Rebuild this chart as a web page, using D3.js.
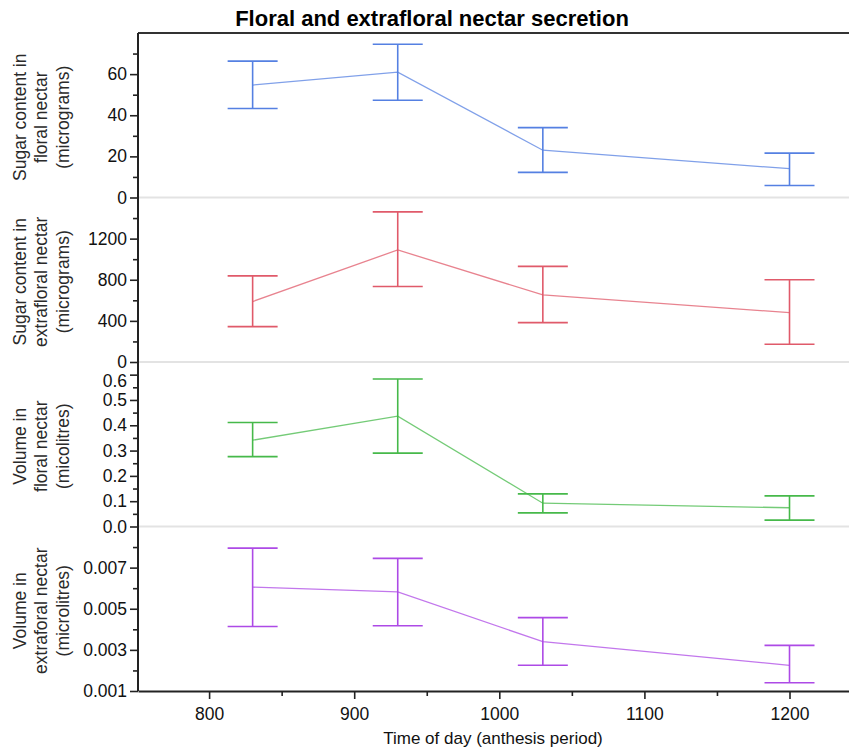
<!DOCTYPE html>
<html>
<head>
<meta charset="utf-8">
<script src="https://cdn.jsdelivr.net/npm/d3@7"></script>
<style>
  body { margin: 0; background: #fff; }
  svg { display: block; font-family: 'Liberation Sans', Arial, sans-serif; }
</style>
</head>
<body>
<div id="chart"></div>
<script>
// time of day for each measurement
const times = [830, 930, 1030, 1200];

// sugar content in floral nectar (micrograms)
const floralSugarMean = [54.7, 61, 23, 14];
const floralSugarLow = [43.3, 47.3, 12.2, 5.8];
const floralSugarHigh = [66.3, 74.5, 34, 21.6];

// sugar content in extrafloral nectar (micrograms)
const extraSugarMean = [588, 1090, 652, 480];
const extraSugarLow = [344, 735, 383, 172];
const extraSugarHigh = [838, 1460, 930, 800];

// volume in floral nectar (microlitres)
const floralVolMean = [0.341, 0.436, 0.092, 0.074];
const floralVolLow = [0.276, 0.29, 0.054, 0.025];
const floralVolHigh = [0.411, 0.583, 0.129, 0.121];

// volume in extrafloral nectar (microlitres)
const extraVolMean = [0.00605, 0.00582, 0.0034, 0.00225];
const extraVolLow = [0.00414, 0.00417, 0.00225, 0.0014];
const extraVolHigh = [0.00795, 0.00745, 0.00457, 0.00322];

const xTicks = [800, 900, 1000, 1100, 1200];
const xMinorTicks = [850, 950, 1050, 1150];

const panels = [
  {
    label: ['Sugar content in', 'floral nectar', '(micrograms)'],
    mean: floralSugarMean, low: floralSugarLow, high: floralSugarHigh,
    domain: [0, 80], ticks: [0, 20, 40, 60], minor: [10, 30, 50, 70],
    format: d3.format('d'), color: '#5580e2',
  },
  {
    label: ['Sugar content in', 'extrafloral nectar', '(micrograms)'],
    mean: extraSugarMean, low: extraSugarLow, high: extraSugarHigh,
    domain: [0, 1600], ticks: [0, 400, 800, 1200], minor: [200, 600, 1000, 1400],
    format: d3.format('d'), color: '#e05a6a',
  },
  {
    label: ['Volume in', 'floral nectar', '(micolitres)'],
    mean: floralVolMean, low: floralVolLow, high: floralVolHigh,
    domain: [0, 0.65], ticks: [0, 0.1, 0.2, 0.3, 0.4, 0.5, 0.6],
    minor: [0.05, 0.15, 0.25, 0.35, 0.45, 0.55],
    format: d3.format('.1f'), color: '#46b94a',
  },
  {
    label: ['Volume in', 'extraforal nectar', '(microlitres)'],
    mean: extraVolMean, low: extraVolLow, high: extraVolHigh,
    domain: [0.001, 0.009], ticks: [0.001, 0.003, 0.005, 0.007],
    minor: [0.002, 0.004, 0.006, 0.008],
    format: d3.format('.3f'), color: '#ad4ae6',
  },
];

const width = 849;
const height = 747;
const margin = { top: 33, right: 0, bottom: 56, left: 138 };
const plotBottom = height - margin.bottom;
const panelHeight = (plotBottom - margin.top) / panels.length;
const capHalf = 25;

const svg = d3
  .select('#chart')
  .append('svg')
  .attr('width', width)
  .attr('height', height);

const x = d3.scaleLinear().domain([751, 1241]).range([margin.left, width]);

svg
  .append('text')
  .attr('x', 432)
  .attr('y', 26)
  .attr('text-anchor', 'middle')
  .attr('font-size', 22)
  .attr('font-weight', 'bold')
  .attr('fill', '#000')
  .text('Floral and extrafloral nectar secretion');

panels.forEach((p, i) => {
  const top = margin.top + i * panelHeight;
  const bottom = top + panelHeight;
  const y = d3.scaleLinear().domain(p.domain).range([bottom, top]);

  // light separator at the panel bottom
  if (i < panels.length - 1) {
    svg
      .append('line')
      .attr('x1', margin.left)
      .attr('x2', width)
      .attr('y1', bottom)
      .attr('y2', bottom)
      .attr('stroke', '#e3e3e3')
      .attr('stroke-width', 2);
  }

  const axis = svg
    .append('g')
    .attr('transform', `translate(${margin.left},0)`)
    .call(
      d3.axisLeft(y).tickValues(p.ticks).tickFormat(p.format)
        .tickSize(8).tickSizeOuter(0).tickPadding(3)
    );
  axis.select('.domain').remove();
  axis.selectAll('line').attr('stroke', '#222').attr('stroke-width', 1.6);
  axis
    .selectAll('text')
    .attr('font-size', 17.5)
    .attr('fill', '#111')
    .attr('font-family', "'Liberation Sans', Arial, sans-serif");
  // top label of the volume panel is pushed down, clear of the "0" above
  if (i === 2) {
    axis
      .selectAll('.tick')
      .filter((d) => d === p.ticks[p.ticks.length - 1])
      .select('text')
      .attr('dy', '0.68em');
  }

  const minorAxis = svg
    .append('g')
    .attr('transform', `translate(${margin.left},0)`)
    .call(d3.axisLeft(y).tickValues(p.minor).tickFormat('').tickSize(5).tickSizeOuter(0));
  minorAxis.select('.domain').remove();
  minorAxis.selectAll('line').attr('stroke', '#222').attr('stroke-width', 1.6);

  // y axis title, three lines
  const title = svg
    .append('g')
    .attr('transform', `translate(0,${(top + bottom) / 2 + 2}) rotate(-90)`);
  p.label.forEach((line, k) => {
    title
      .append('text')
      .attr('x', 0)
      .attr('y', 25.5 + k * 21.5)
      .attr('text-anchor', 'middle')
      .attr('font-size', 17.5)
      .attr('fill', '#2a2a2a')
      .text(line);
  });

  const points = times.map((t, k) => ({
    t, mean: p.mean[k], low: p.low[k], high: p.high[k],
  }));

  svg
    .append('path')
    .datum(points)
    .attr('fill', 'none')
    .attr('stroke', p.color)
    .attr('stroke-opacity', 0.75)
    .attr('stroke-width', 1.3)
    .attr('d', d3.line().x((d) => x(d.t)).y((d) => y(d.mean)));

  const bars = svg
    .append('g')
    .attr('stroke', p.color)
    .attr('stroke-width', 1.6)
    .selectAll('g')
    .data(points)
    .join('g');

  bars
    .append('line')
    .attr('x1', (d) => x(d.t))
    .attr('x2', (d) => x(d.t))
    .attr('y1', (d) => y(d.low))
    .attr('y2', (d) => y(d.high));
  bars
    .append('line')
    .attr('x1', (d) => x(d.t) - capHalf)
    .attr('x2', (d) => x(d.t) + capHalf)
    .attr('y1', (d) => y(d.high))
    .attr('y2', (d) => y(d.high));
  bars
    .append('line')
    .attr('x1', (d) => x(d.t) - capHalf)
    .attr('x2', (d) => x(d.t) + capHalf)
    .attr('y1', (d) => y(d.low))
    .attr('y2', (d) => y(d.low));
});

// frame: top border, left axis line
svg
  .append('line')
  .attr('x1', margin.left)
  .attr('x2', width)
  .attr('y1', margin.top)
  .attr('y2', margin.top)
  .attr('stroke', '#333')
  .attr('stroke-width', 2);
svg
  .append('line')
  .attr('x1', margin.left)
  .attr('x2', margin.left)
  .attr('y1', margin.top)
  .attr('y2', plotBottom)
  .attr('stroke', '#222')
  .attr('stroke-width', 2);

// x axis
const xAxis = svg
  .append('g')
  .attr('transform', `translate(0,${plotBottom})`)
  .call(d3.axisBottom(x).tickValues(xTicks).tickFormat(d3.format('d')).tickSize(8).tickSizeOuter(0).tickPadding(9));
xAxis.select('.domain').attr('stroke', '#222').attr('stroke-width', 2);
xAxis.selectAll('line').attr('stroke', '#222').attr('stroke-width', 1.6);
xAxis
  .selectAll('text')
  .attr('font-size', 17.5)
  .attr('fill', '#111')
  .attr('font-family', "'Liberation Sans', Arial, sans-serif");

const xMinor = svg
  .append('g')
  .attr('transform', `translate(0,${plotBottom})`)
  .call(d3.axisBottom(x).tickValues(xMinorTicks).tickFormat('').tickSize(5).tickSizeOuter(0));
xMinor.select('.domain').remove();
xMinor.selectAll('line').attr('stroke', '#222').attr('stroke-width', 1.6);

svg
  .append('text')
  .attr('x', 493)
  .attr('y', 744)
  .attr('text-anchor', 'middle')
  .attr('font-size', 17)
  .attr('fill', '#111')
  .text('Time of day (anthesis period)');
</script>
</body>
</html>
